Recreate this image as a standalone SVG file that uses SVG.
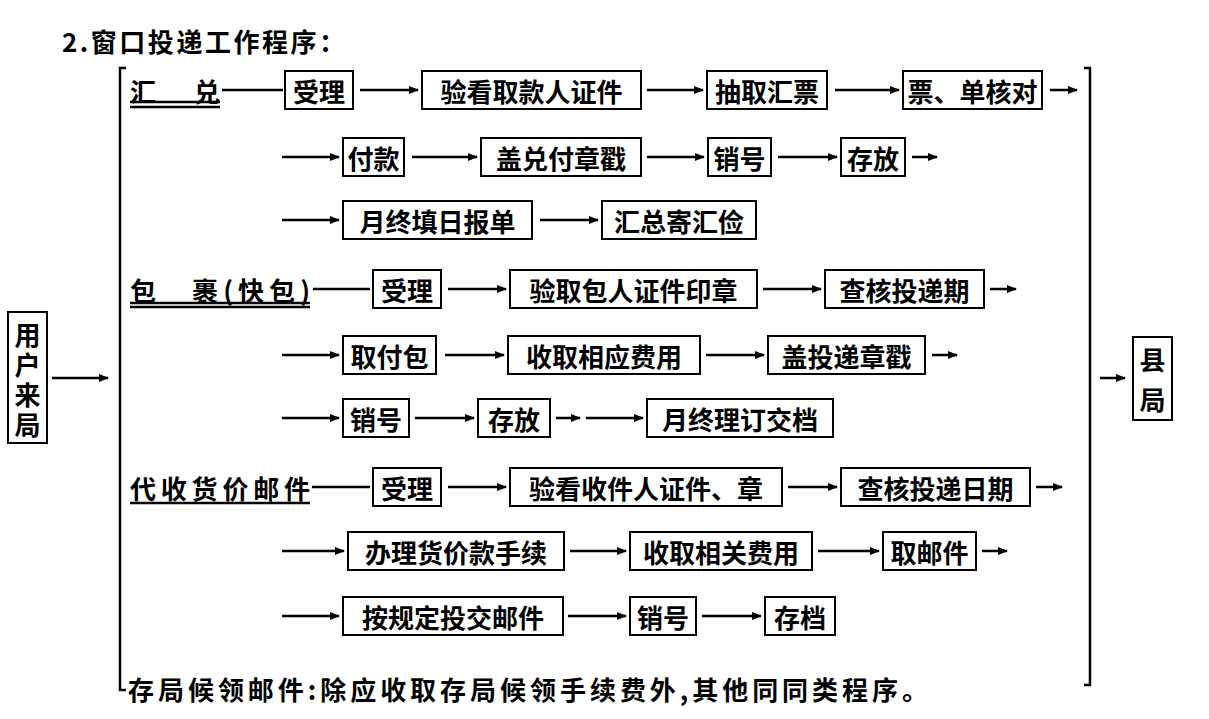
<svg xmlns="http://www.w3.org/2000/svg" width="1209" height="719" viewBox="0 0 1209 719">
<defs><marker id="a" markerWidth="10" markerHeight="8" refX="9" refY="4" orient="auto" markerUnits="userSpaceOnUse"><path d="M0,0 L10,4 L0,8 z" fill="#000"/></marker></defs>
<style>
text{font-family:"Noto Sans CJK SC",sans-serif;font-size:26px;font-weight:bold;fill:#000;dominant-baseline:central}
.b rect{fill:#fff;stroke:#000;stroke-width:2}
.b text{text-anchor:middle}
#c line{stroke:#000;stroke-width:2.5}
#c .r{marker-end:url(#a)}
</style>
<rect width="1209" height="719" fill="#fff"/>
<text x="62" y="40" textLength="283" lengthAdjust="spacing">2.窗口投递工作程序：</text>
<g id="c">
<path d="M126,68 H120 V690 H126 M1084,68 H1090 V685 H1084" fill="none" stroke="#000" stroke-width="2.5"/>
<line class="r" x1="52" y1="378" x2="108" y2="378"/>
<line class="r" x1="1100" y1="378" x2="1125" y2="378"/>
<line x1="130" y1="102" x2="220" y2="102" stroke-width="1.5"/><line x1="130" y1="107" x2="220" y2="107" stroke-width="1.5"/>
<line x1="222" y1="90" x2="283" y2="90" stroke-width="1.5"/>
<line class="r" x1="360" y1="90" x2="418" y2="90"/>
<line class="r" x1="647" y1="90" x2="703" y2="90"/>
<line class="r" x1="835" y1="90" x2="899" y2="90"/>
<line class="r" x1="1050" y1="90" x2="1077" y2="90"/>
<line class="r" x1="282" y1="157" x2="339" y2="157"/>
<line class="r" x1="412" y1="157" x2="477" y2="157"/>
<line class="r" x1="647" y1="157" x2="704" y2="157"/>
<line class="r" x1="778" y1="157" x2="837" y2="157"/>
<line class="r" x1="912" y1="157" x2="937" y2="157"/>
<line class="r" x1="282" y1="220" x2="339" y2="220"/>
<line class="r" x1="540" y1="220" x2="598" y2="220"/>
<line x1="130" y1="303" x2="310" y2="303" stroke-width="1.5"/><line x1="130" y1="307" x2="310" y2="307" stroke-width="1.5"/>
<line x1="313" y1="289" x2="370" y2="289" stroke-width="1.5"/>
<line class="r" x1="448" y1="289" x2="506" y2="289"/>
<line class="r" x1="763" y1="289" x2="821" y2="289"/>
<line class="r" x1="990" y1="289" x2="1016" y2="289"/>
<line class="r" x1="282" y1="355" x2="339" y2="355"/>
<line class="r" x1="445" y1="355" x2="504" y2="355"/>
<line class="r" x1="706" y1="355" x2="764" y2="355"/>
<line class="r" x1="932" y1="355" x2="957" y2="355"/>
<line class="r" x1="282" y1="418" x2="339" y2="418"/>
<line class="r" x1="415" y1="418" x2="474" y2="418"/>
<line class="r" x1="556" y1="418" x2="580" y2="418"/>
<line class="r" x1="586" y1="418" x2="643" y2="418"/>
<line x1="130" y1="503" x2="310" y2="503" stroke-width="1.5"/>
<line x1="312" y1="487" x2="370" y2="487" stroke-width="1.5"/>
<line class="r" x1="448" y1="487" x2="506" y2="487"/>
<line class="r" x1="788" y1="487" x2="837" y2="487"/>
<line class="r" x1="1036" y1="487" x2="1062" y2="487"/>
<line class="r" x1="282" y1="551" x2="344" y2="551"/>
<line class="r" x1="570" y1="551" x2="626" y2="551"/>
<line class="r" x1="818" y1="551" x2="879" y2="551"/>
<line class="r" x1="982" y1="551" x2="1007" y2="551"/>
<line class="r" x1="282" y1="616" x2="339" y2="616"/>
<line class="r" x1="568" y1="616" x2="626" y2="616"/>
<line class="r" x1="702" y1="616" x2="761" y2="616"/>
</g>
<text x="130" y="90" textLength="90" lengthAdjust="spacing">汇　兑</text>
<text x="130" y="289" textLength="180" lengthAdjust="spacing">包　裹(快包)</text>
<text x="130" y="487" textLength="180" lengthAdjust="spacing">代收货价邮件</text>
<text x="128" y="688" textLength="800" lengthAdjust="spacing">存局候领邮件:除应收取存局候领手续费外,其他同同类程序。</text>
<g class="b">
<g id="n0"><rect x="8" y="312" width="39" height="131"/><text x="27.5" y="333" font-size="20">用</text><text x="27.5" y="363" font-size="20">户</text><text x="27.5" y="393" font-size="20">来</text><text x="27.5" y="423" font-size="20">局</text></g>
<g id="n1"><rect x="1133" y="337" width="39" height="83"/><text x="1152.5" y="358">县</text><text x="1152.5" y="398">局</text></g>
<g id="r1a"><rect x="285" y="71" width="68" height="38"/><text x="319" y="90">受理</text></g>
<g id="r1b"><rect x="422" y="71" width="219" height="38"/><text x="531.5" y="90">验看取款人证件</text></g>
<g id="r1c"><rect x="707" y="71" width="120" height="38"/><text x="767" y="90">抽取汇票</text></g>
<g id="r1d"><rect x="903" y="71" width="139" height="38"/><text x="972.5" y="90">票、单核对</text></g>
<g id="r2a"><rect x="343" y="138" width="61" height="38"/><text x="373.5" y="157">付款</text></g>
<g id="r2b"><rect x="481" y="138" width="160" height="38"/><text x="561" y="157">盖兑付章戳</text></g>
<g id="r2c"><rect x="708" y="138" width="63" height="38"/><text x="739.5" y="157">销号</text></g>
<g id="r2d"><rect x="841" y="138" width="64" height="38"/><text x="873" y="157">存放</text></g>
<g id="r3a"><rect x="343" y="201" width="189" height="38"/><text x="437.5" y="220">月终填日报单</text></g>
<g id="r3b"><rect x="602" y="201" width="154" height="38"/><text x="679" y="220">汇总寄汇俭</text></g>
<g id="r4a"><rect x="373" y="270" width="68" height="38"/><text x="407" y="289">受理</text></g>
<g id="r4b"><rect x="510" y="270" width="247" height="38"/><text x="633.5" y="289">验取包人证件印章</text></g>
<g id="r4c"><rect x="825" y="270" width="159" height="38"/><text x="904.5" y="289">查核投递期</text></g>
<g id="r5a"><rect x="343" y="336" width="93" height="38"/><text x="389.5" y="355">取付包</text></g>
<g id="r5b"><rect x="508" y="336" width="192" height="38"/><text x="604" y="355">收取相应费用</text></g>
<g id="r5c"><rect x="768" y="336" width="157" height="38"/><text x="846.5" y="355">盖投递章戳</text></g>
<g id="r6a"><rect x="343" y="399" width="66" height="38"/><text x="376" y="418">销号</text></g>
<g id="r6b"><rect x="478" y="399" width="72" height="38"/><text x="514" y="418">存放</text></g>
<g id="r6c"><rect x="647" y="399" width="186" height="38"/><text x="740" y="418">月终理订交档</text></g>
<g id="r7a"><rect x="373" y="468" width="68" height="38"/><text x="407" y="487">受理</text></g>
<g id="r7b"><rect x="510" y="468" width="272" height="38"/><text x="646" y="487">验看收件人证件、章</text></g>
<g id="r7c"><rect x="841" y="468" width="189" height="38"/><text x="935.5" y="487">查核投递日期</text></g>
<g id="r8a"><rect x="348" y="532" width="216" height="38"/><text x="456" y="551">办理货价款手续</text></g>
<g id="r8b"><rect x="630" y="532" width="182" height="38"/><text x="721" y="551">收取相关费用</text></g>
<g id="r8c"><rect x="883" y="532" width="93" height="38"/><text x="929.5" y="551">取邮件</text></g>
<g id="r9a"><rect x="343" y="597" width="220" height="38"/><text x="453" y="616">按规定投交邮件</text></g>
<g id="r9b"><rect x="630" y="597" width="66" height="38"/><text x="663" y="616">销号</text></g>
<g id="r9c"><rect x="765" y="597" width="70" height="38"/><text x="800" y="616">存档</text></g>
</g>
</svg>
